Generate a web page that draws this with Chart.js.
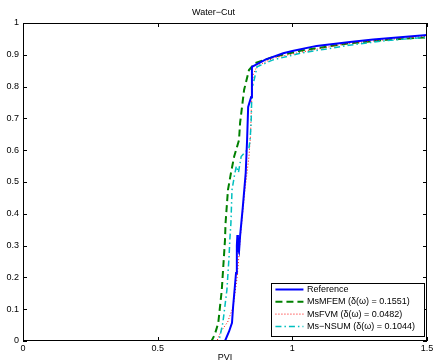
<!DOCTYPE html>
<html>
<head>
<meta charset="utf-8">
<title>Water-Cut</title>
<script src="https://cdn.jsdelivr.net/npm/chart.js@4.4.0/dist/chart.umd.min.js"></script>
<style>
  html, body { margin: 0; padding: 0; background: #fff; }
  canvas { display: block; }
</style>
</head>
<body>
<canvas id="waterCutChart" width="433" height="363"></canvas>
<script>
// water-cut curves vs. pore volumes injected
const refPvi  = [0, 0.75, 0.765, 0.776, 0.780, 0.791, 0.794, 0.796, 0.798, 0.802, 0.806, 0.816, 0.827, 0.832, 0.836, 0.847, 0.850, 0.869, 0.900, 0.966, 1.000, 1.090, 1.214, 1.300, 1.400, 1.500];
const refCut  = [0, 0,    0.030, 0.057, 0.107, 0.214, 0.300, 0.333, 0.290, 0.280, 0.330, 0.420, 0.530, 0.632, 0.736, 0.767, 0.862, 0.871, 0.885, 0.905, 0.912, 0.928, 0.940, 0.948, 0.955, 0.962];

const mfemPvi = [0, 0.700, 0.712, 0.725, 0.738, 0.750, 0.752, 0.761, 0.772, 0.784, 0.802, 0.806, 0.821, 0.839, 0.862, 0.928, 1.030, 1.200, 1.350, 1.500];
const mfemCut = [0, 0,     0.020, 0.057, 0.160, 0.318, 0.370, 0.475, 0.528, 0.580, 0.632, 0.686, 0.790, 0.852, 0.874, 0.893, 0.913, 0.935, 0.947, 0.955];

const fvmPvi  = [0, 0.720, 0.735, 0.760, 0.780, 0.795, 0.800, 0.806, 0.824, 0.839, 0.845, 0.848, 0.855, 0.870, 0.930, 1.030, 1.200, 1.350, 1.500];
const fvmCut  = [0, 0,     0.030, 0.060, 0.107, 0.200, 0.250, 0.318, 0.475, 0.580, 0.650, 0.740, 0.840, 0.865, 0.890, 0.908, 0.935, 0.948, 0.958];

const nsumPvi = [0, 0.720, 0.730, 0.742, 0.757, 0.765, 0.768, 0.772, 0.776, 0.785, 0.792, 0.800, 0.810, 0.839, 0.843, 0.847, 0.850, 0.869, 0.928, 1.030, 1.210, 1.350, 1.500];
const nsumCut = [0, 0,     0.010, 0.057, 0.160, 0.264, 0.320, 0.371, 0.475, 0.520, 0.550, 0.530, 0.580, 0.607, 0.632, 0.686, 0.790, 0.862, 0.884, 0.905, 0.930, 0.945, 0.955];

const seriesNames = ['Reference', 'MsMFEM (\u03b4(\u03c9) = 0.1551)', 'MsFVM (\u03b4(\u03c9) = 0.0482)', 'Ms\u2212NSUM (\u03b4(\u03c9) = 0.1044)'];

const FONT = '"Liberation Sans", Arial, Helvetica, sans-serif';

function toPoints(xs, ys) {
    return xs.map((x, i) => ({ x: x, y: ys[i] }));
}

// plain tick text: 0, 0.5, 1, 1.5 instead of 0.0 / 1.0
function tickText(value) {
    return String(parseFloat(value.toFixed(2)));
}

// MATLAB style frame: box on, ticks pointing inwards on all four sides
const boxTicks = {
    id: 'boxTicks',
    afterDatasetsDraw(chart) {
        const { ctx, chartArea: a, scales: { x, y } } = chart;
        const len = 4;
        ctx.save();
        ctx.strokeStyle = '#000';
        ctx.lineWidth = 1;
        ctx.strokeRect(a.left + 0.5, a.top + 0.5, a.right - a.left - 1, a.bottom - a.top - 1);
        ctx.beginPath();
        x.ticks.forEach(t => {
            const px = Math.round(x.getPixelForValue(t.value)) + 0.5;
            ctx.moveTo(px, a.bottom); ctx.lineTo(px, a.bottom - len);
            ctx.moveTo(px, a.top); ctx.lineTo(px, a.top + len);
        });
        y.ticks.forEach(t => {
            const py = Math.round(y.getPixelForValue(t.value)) + 0.5;
            ctx.moveTo(a.left, py); ctx.lineTo(a.left + len, py);
            ctx.moveTo(a.right, py); ctx.lineTo(a.right - len, py);
        });
        ctx.stroke();
        ctx.restore();
    }
};

// legend box in the lower right corner of the axes
const boxLegend = {
    id: 'boxLegend',
    afterDraw(chart) {
        const { ctx, chartArea: a } = chart;
        const sets = chart.data.datasets;
        ctx.save();
        ctx.font = '9px ' + FONT;
        const textW = Math.max(...sets.map(d => ctx.measureText(d.label).width));
        const rowH = 12.3, lineLen = 28, gap = 3.5;
        const right = a.right - 3, bottom = a.bottom - 5.5;
        const top = bottom - 52.5;
        const textX = right - 9 - textW;
        const left = textX - gap - lineLen - 4.5;
        ctx.fillStyle = '#fff';
        ctx.fillRect(left, top, right - left, bottom - top);
        ctx.strokeStyle = '#000';
        ctx.lineWidth = 1;
        ctx.strokeRect(Math.round(left) + 0.5, Math.round(top) + 0.5, Math.round(right - left), Math.round(bottom - top));
        sets.forEach((d, i) => {
            const cy = top + 6.5 + i * rowH;
            ctx.beginPath();
            ctx.strokeStyle = d.borderColor;
            ctx.lineWidth = d.borderWidth;
            ctx.setLineDash(d.borderDash || []);
            ctx.moveTo(textX - gap - lineLen, cy);
            ctx.lineTo(textX - gap, cy);
            ctx.stroke();
            ctx.setLineDash([]);
            ctx.fillStyle = '#000';
            ctx.textBaseline = 'middle';
            ctx.textAlign = 'left';
            ctx.fillText(d.label, textX, cy);
        });
        ctx.restore();
    }
};

new Chart(document.getElementById('waterCutChart').getContext('2d'), {
    type: 'line',
    data: {
        datasets: [{
            label: seriesNames[0],
            data: toPoints(refPvi, refCut),
            borderColor: '#0000ff',
            borderWidth: 2,
            order: 0
        }, {
            label: seriesNames[1],
            data: toPoints(mfemPvi, mfemCut),
            borderColor: '#008000',
            borderWidth: 2,
            borderDash: [7, 4],
            order: 3
        }, {
            label: seriesNames[2],
            data: toPoints(fvmPvi, fvmCut),
            borderColor: '#ff0000',
            borderWidth: 1,
            borderDash: [1, 2],
            order: 2
        }, {
            label: seriesNames[3],
            data: toPoints(nsumPvi, nsumCut),
            borderColor: '#00bfbf',
            borderWidth: 1.5,
            borderDash: [6, 3, 1.5, 3],
            order: 1
        }]
    },
    options: {
        responsive: false,
        animation: false,
        devicePixelRatio: 1,
        layout: { padding: { left: 0, right: 6, top: 0, bottom: 0 } },
        elements: {
            point: { radius: 0, hoverRadius: 0 },
            line: { tension: 0, fill: false }
        },
        scales: {
            x: {
                type: 'linear',
                min: 0,
                max: 1.5,
                ticks: { stepSize: 0.5, color: '#000', font: { family: FONT, size: 9 }, padding: 2, maxRotation: 0, callback: tickText },
                grid: { display: false, drawTicks: false },
                border: { display: false },
                title: { display: true, text: 'PVI', color: '#000', font: { family: FONT, size: 9 }, padding: { top: 0, bottom: 0 } },
                afterFit(scale) {
                    scale.height = 22;
                    scale.paddingLeft = 0;
                    scale.paddingRight = 0;
                }
            },
            y: {
                type: 'linear',
                min: 0,
                max: 1,
                ticks: { stepSize: 0.1, color: '#000', font: { family: FONT, size: 9 }, padding: 4, callback: tickText },
                grid: { display: false, drawTicks: false },
                border: { display: false },
                afterFit(scale) {
                    scale.width = 23;
                    scale.paddingTop = 0;
                    scale.paddingBottom = 0;
                }
            }
        },
        plugins: {
            legend: { display: false },
            tooltip: { enabled: false },
            title: {
                display: true,
                text: 'Water\u2212Cut',
                color: '#000',
                font: { family: FONT, size: 9, weight: 'normal' },
                padding: { top: 7, bottom: 5.2 }
            }
        }
    },
    plugins: [boxTicks, boxLegend]
});
</script>
</body>
</html>
